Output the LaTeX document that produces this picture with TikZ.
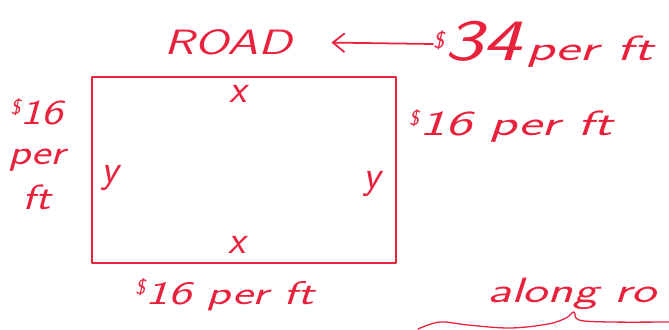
\documentclass[tikz,border=0pt]{standalone}
\usepackage{fontspec}
\usetikzlibrary{arrows.meta,positioning}
\definecolor{pen}{RGB}{232,34,60}

\newcommand{\handfont}[1]{\fontsize{#1}{#1}\selectfont\sffamily\slshape}
\newcommand{\wide}[2]{\scalebox{#1}[1]{#2}}
\newcommand{\dollar}{\raisebox{0.7ex}{\handfont{18}\$}}

\tikzset{
  ink/.style={draw=pen, line width=1.5pt, line cap=round, line join=round},
  note/.style={text=pen, inner sep=0pt, font=\handfont{30}},
  var/.style={text=pen, inner sep=0pt, font=\handfont{34}}
}

\begin{document}
\begin{tikzpicture}[x=0.03cm, y=-0.03cm]
  \useasboundingbox (0,0) rectangle (669,329);

  % the lot
  \node[ink, minimum width=9.1cm, minimum height=5.58cm, inner sep=0pt] (lot) at (244,170) {};

  % sides
  \node[var] (xtop) at (238,94) {x};
  \node[var] (xbot) at (237,245) {x};
  \node[var] (yleft) at (110,178) {y};
  \node[var] (yright) at (372,184) {y};

  % road and prices
  \node[note] (road) at (228,42) {\wide{1.4}{ROAD}};
  \node[note, anchor=west] (price) at (433,44)
    {\raisebox{0.75ex}{\handfont{20}\$}\wide{1.4}{\handfont{50}34}\hspace{4pt}\wide{1.65}{per ft}};
  \draw[ink, -{Straight Barb[length=10pt, width=16pt]}, shorten >=34pt] (price.west) -- (road.east);

  \node[note, anchor=west] (priceright) at (409,126)
    {\dollar\wide{1.6}{16 per ft}};
  \node[note, align=center] (priceleft) at (37,154)
    {\dollar\wide{1.3}{16}\\[4pt]\wide{1.3}{per}\\[8pt]\wide{1.3}{ft}};
  \node[note, font=\handfont{28}] (pricebot) at (225,295)
    {\dollar\wide{1.5}{16 per ft}};

  % note at bottom right
  \node[note, anchor=west] (along) at (487,294) {\wide{1.5}{along ro}};
  \draw[ink, line width=1.1pt] plot[smooth, tension=0.6] coordinates
    {(418,329) (440,322) (468,325) (510,328) (548,324) (566,318) (574,312) (579,320) (610,322) (669,322)};
\end{tikzpicture}
\end{document}
